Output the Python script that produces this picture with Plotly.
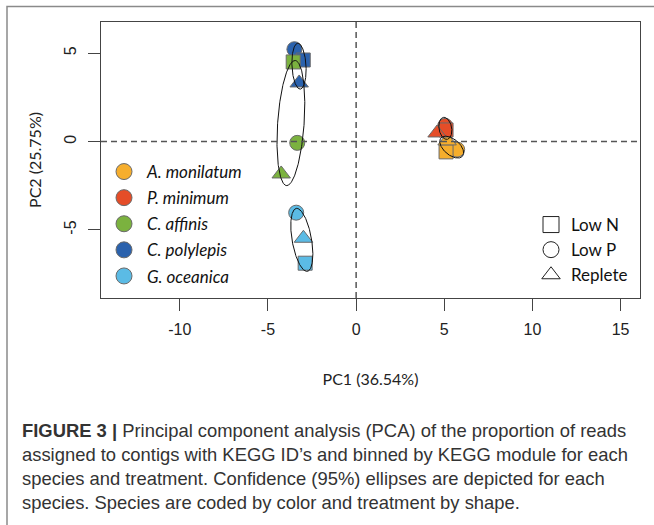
import numpy as np
import plotly.graph_objects as go

# ---------------- data ----------------
species = ["A. monilatum", "P. minimum", "C. affinis", "C. polylepis", "G. oceanica"]
species_colors = ["#F6AE2D", "#E54D28", "#7BB23F", "#2B62AD", "#5BBBE5"]
treatments = ["Low N", "Low P", "Replete"]

pc1_low_n = [5.10, 5.10, -3.57, -3.00, -2.89]
pc2_low_n = [-0.58, 0.66, 4.51, 4.62, -6.88]
pc1_low_p = [5.73, 5.05, -3.34, -3.50, -3.40]
pc2_low_p = [-0.45, 0.89, -0.07, 5.23, -4.02]
pc1_replete = [5.16, 4.59, -4.25, -3.23, -2.99]
pc2_replete = [0.04, 0.49, -1.83, 3.32, -5.47]

# 95% confidence ellipses (centre, semi-axes, rotation in degrees)
ell_cx = [5.42, 5.06, -3.70, -3.24, -3.08]
ell_cy = [-0.31, 0.75, 1.05, 4.27, -5.56]
ell_a = [0.80, 0.63, 3.55, 1.30, 1.81]
ell_b = [0.45, 0.36, 0.75, 0.40, 0.55]
ell_angle = [-40, 100, 86, 93, 100]

x_ticks = [-10, -5, 0, 5, 10, 15]
y_ticks = [-5, 0, 5]

caption_html = (
    "<b>FIGURE 3 |</b> Principal component analysis (PCA) of the proportion of reads<br>"
    "assigned to contigs with KEGG ID’s and binned by KEGG module for each<br>"
    "species and treatment. Confidence (95%) ellipses are depicted for each<br>"
    "species. Species are coded by color and treatment by shape."
)

# ---------------- figure ----------------
W, H = 654, 525
ML, MR, MT, MB = 101, 14, 22, 227
PW, PH = W - ML - MR, H - MT - MB


def px(xp):
    return (xp - ML) / PW


def py(yp):
    return (H - MB - yp) / PH


fig = go.Figure()

treat_data = {
    "Low N": (pc1_low_n, pc2_low_n, "square", 14),
    "Low P": (pc1_low_p, pc2_low_p, "circle", 15),
    "Replete": (pc1_replete, pc2_replete, "triangle-up", 16),
}

draw_order = [3, 2, 4, 0, 1]
for si in draw_order:
    for t in ["Low P", "Low N", "Replete"]:
        xs, ys, sym, sz = treat_data[t]
        fig.add_trace(go.Scatter(
            x=[xs[si]], y=[ys[si]], mode="markers",
            marker=dict(symbol=sym, size=sz, color=species_colors[si],
                        line=dict(color="#6a6a6a", width=1)),
            showlegend=False, hoverinfo="skip"))

# ellipses
tt = np.linspace(0, 2 * np.pi, 241)
for si in range(len(species)):
    th = np.deg2rad(ell_angle[si])
    ex = ell_cx[si] + ell_a[si] * np.cos(tt) * np.cos(th) - ell_b[si] * np.sin(tt) * np.sin(th)
    ey = ell_cy[si] + ell_a[si] * np.cos(tt) * np.sin(th) + ell_b[si] * np.sin(tt) * np.cos(th)
    fig.add_trace(go.Scatter(x=ex, y=ey, mode="lines",
                             line=dict(color="#111111", width=1),
                             showlegend=False, hoverinfo="skip"))

# legend entries: species
for si, name in enumerate(species):
    fig.add_trace(go.Scatter(
        x=[None], y=[None], mode="markers", name="<i>" + name + "</i>",
        marker=dict(symbol="circle", size=16, color=species_colors[si],
                    line=dict(color="#6a6a6a", width=1)),
        legend="legend", legendgroup="s%d" % si))

# legend entries: treatments
for t, sym in zip(treatments, ["square-open", "circle-open", "triangle-up-open"]):
    fig.add_trace(go.Scatter(
        x=[None], y=[None], mode="markers", name=t,
        marker=dict(symbol=sym, size=16, color="#222222", line=dict(width=1)),
        legend="legend2", legendgroup="t" + t))

axis_common = dict(
    showgrid=False, zeroline=False, showline=True, mirror=True, automargin=False,
    linecolor="#444444", linewidth=1.3,
    ticks="outside", ticklen=12, tickwidth=1.2, tickcolor="#444444",
    tickfont=dict(family="Liberation Sans, Arial, sans-serif", size=16, color="#222222"),
)

fig.update_layout(
    width=W, height=H,
    margin=dict(l=ML, r=MR, t=MT, b=MB, autoexpand=False),
    paper_bgcolor="white", plot_bgcolor="white",
    xaxis=dict(range=[-14.47, 16.1], tickvals=x_ticks, ticktext=[str(v) for v in x_ticks],
               ticklabelstandoff=5,
               title=dict(text="PC1 (36.54%)", standoff=36,
                          font=dict(family="Lato, sans-serif", size=16, color="#222222")),
               **axis_common),
    yaxis=dict(range=[-8.85, 6.77], tickvals=y_ticks, ticktext=[str(v) for v in y_ticks],
               tickangle=-90, ticklabelstandoff=5,
               title=dict(text="PC2 (25.75%)", standoff=16,
                          font=dict(family="Lato, sans-serif", size=16, color="#222222")),
               **axis_common),
    legend=dict(x=px(101), y=py(154), xanchor="left", yanchor="top",
                font=dict(family="Lato, sans-serif", size=17, color="#111111"),
                bgcolor="rgba(0,0,0,0)", tracegroupgap=1, traceorder="grouped",
                itemwidth=36),
    legend2=dict(x=px(531), y=py(207), xanchor="left", yanchor="top",
                 font=dict(family="Lato, sans-serif", size=17, color="#111111"),
                 bgcolor="rgba(0,0,0,0)", tracegroupgap=0, traceorder="grouped"),
    showlegend=True,
)

# dashed reference lines at 0
fig.add_shape(type="line", xref="x", yref="paper", x0=0, x1=0, y0=0, y1=1,
              line=dict(color="#555555", width=1.5, dash="6px,4px"))
fig.add_shape(type="line", xref="paper", yref="y", x0=0, x1=1, y0=0, y1=0,
              line=dict(color="#555555", width=1.5, dash="6px,4px"))

# outer frame (left and top edges)
fig.add_shape(type="path", xref="paper", yref="paper",
              path="M %f %f L %f %f L %f %f" % (px(7), py(525), px(7), py(6.5), px(654), py(6.5)),
              line=dict(color="#8a8a8a", width=1.5))

# caption
fig.add_annotation(xref="paper", yref="paper", x=px(20), y=py(418),
                   xanchor="left", yanchor="top", align="left", showarrow=False,
                   text=caption_html,
                   font=dict(family="Liberation Sans, Arial, sans-serif",
                             size=18.4, color="#333333"))

fig.write_html("out.html", config={"displayModeBar": False},
               post_script="document.body.style.margin='0';")
